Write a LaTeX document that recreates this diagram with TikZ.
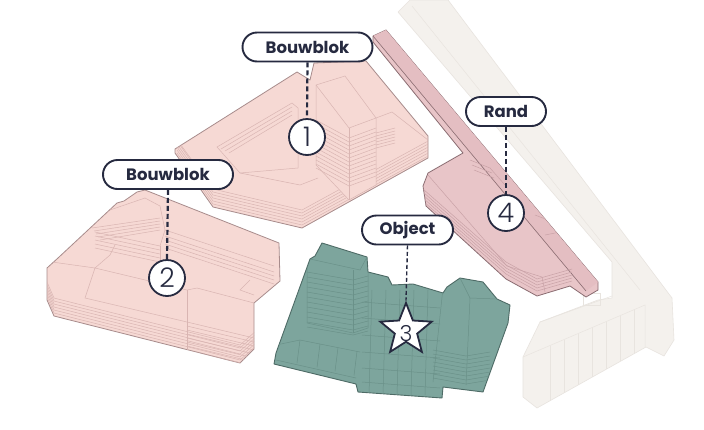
\documentclass[tikz,border=0pt]{standalone}
\usepackage{fontspec}
\setmainfont{Poppins}
\newfontfamily\numfont{Poppins Light}
\usetikzlibrary{shapes.geometric}
\definecolor{pinkfill}{HTML}{F6D9D4}
\definecolor{pinkline}{HTML}{A88C8C}
\definecolor{pinkdet}{HTML}{D9B5B2}
\definecolor{randfill}{HTML}{E8C5C8}
\definecolor{randtop}{HTML}{E4BEC2}
\definecolor{randline}{HTML}{8A6C71}
\definecolor{randdet}{HTML}{C9A2A7}
\definecolor{greenfill}{HTML}{7DA59D}
\definecolor{greenline}{HTML}{4E6B66}
\definecolor{greendet}{HTML}{6A9189}
\definecolor{beigefill}{HTML}{F4F1ED}
\definecolor{beigeline}{HTML}{E8E4DF}
\definecolor{navy}{HTML}{262A40}
\tikzset{
  pinkbld/.style={fill=pinkfill, draw=pinkline, line width=0.8pt, line join=round},
  pinkfl/.style={draw=pinkdet, line width=0.5pt},
  randbld/.style={fill=randfill, draw=randline, line width=0.8pt, line join=round},
  randfl/.style={draw=randdet, line width=0.5pt},
  greenbld/.style={fill=greenfill, draw=greenline, line width=0.9pt, line join=round},
  greenfl/.style={draw=greendet, line width=0.5pt},
  beigebld/.style={fill=beigefill, draw=beigeline, line width=0.6pt, line join=round},
  beigefl/.style={draw=beigeline, line width=0.5pt},
  pill/.style={draw=navy, line width=1.9pt, fill=white, rounded corners=14.5pt,
    minimum height=29pt, inner sep=0pt, text=navy, font=\fontsize{16.5}{16.5}\selectfont\bfseries},
  numc/.style={circle, draw=navy, line width=1.8pt, fill=white, minimum size=36pt,
    inner sep=0pt, text=navy, font=\numfont\fontsize{27}{27}\selectfont},
  starn/.style={star, star points=5, star point ratio=2.3, draw=navy, line width=1.8pt,
    fill=white, minimum size=54pt, inner sep=0pt},
  leadthick/.style={draw=navy, line width=2.2pt, dash pattern=on 5pt off 3pt},
  leadthin/.style={draw=navy, line width=1.4pt, dash pattern=on 4pt off 2.5pt}
}
\begin{document}
\begin{tikzpicture}[x=1pt,y=-1pt]
\useasboundingbox (0,0) rectangle (704,429);
\fill[white] (0,0) rectangle (704,429);

% ---------- background beige buildings ----------
\path[beigebld] (398,12) -- (410,0) -- (448,0) -- (672,298) -- (674,340) -- (664,356) -- (646,347)
  -- (537,408) -- (523,397) -- (523,357) -- (540,322) -- (598,300) -- (612,298) -- (612,262) -- cycle;
\draw[beigefl] (412,6) -- (640,290);
\draw[beigefl] (523,357) -- (645,305) -- (645,347);
\draw[beigefl] (540,322) -- (612,296);
\foreach \x/\t/\b in {550/345.7/400.7,564/339.5/392.7,578/333.6/384.8,592/327.6/376.9,606/321.6/369,620/315.7/361.1,634/309.7/353.2}
  \draw[beigefl] (\x,\t) -- (\x,\b);
\draw[beigefl] (583,293) rectangle (600,305);

% ---------- Rand (4) ----------
\path[randbld] (373,36) -- (386,30) -- (598,282) -- (598,290) -- (586,297) -- (570,286) -- (537,296)
  -- (506,279) -- (426,206) -- (423,186) -- (428,173) -- (463,153) -- (373,42) -- cycle;
\fill[randtop] (373,36) -- (386,30) -- (598,282) -- (586,291) -- cycle;
\draw[randline, line width=0.6pt] (373,36) -- (586,291);
\begin{scope}
  \clip (373,36) -- (386,30) -- (598,282) -- (598,290) -- (586,297) -- (570,286) -- (537,296)
  -- (506,279) -- (426,206) -- (423,186) -- (428,173) -- (463,153) -- (373,42) -- cycle;
  \foreach \k in {1,...,5}
    \draw[randfl] (423,{204-3*\k}) -- (506,{277-3*\k}) -- (537,{294-3*\k}) -- (572,{284-3*\k});
  \draw[randfl] (428,175) -- (507,266) -- (542,277) -- (545,292);
  \draw[randfl] (470,160) -- (490,168) -- (505,185);
  \draw[randfl] (472,165) -- (492,173);
  \draw[randfl] (474,170) -- (494,178);
  \draw[randfl] (535,215) -- (548,220);
  \draw[randfl] (545,235) -- (560,232);
\end{scope}

% ---------- Bouwblok (1) ----------
\def\bone{(175,149) -- (297,72) -- (310,80) -- (314,63) -- (366,61) -- (428,136) -- (428,158)
  -- (302,228) -- (213,207) -- (175,153) -- cycle}
\path[pinkbld] \bone;
\begin{scope}
  \clip \bone;
  \foreach \k in {1,...,5}
    \draw[pinkfl] (177,{156-3*\k}) -- (213,{207-3*\k}) -- (302,{228-3*\k}) -- (430,{158-3*\k});
  \draw[pinkfl] (178,141) -- (213,189) -- (302,210) -- (430,140);
  % courtyard steps
  \draw[pinkfl] (217,147) -- (292,103) -- (298,108) -- (298,168) -- (240,173) -- cycle;
  \foreach \k in {1,2,3}
    \draw[pinkfl] ({217+4*\k},{147+2*\k}) -- (292,{103+4*\k});
  \draw[pinkfl] (240,173) -- (300,185) -- (318,178);
  % tower
  \path[fill=pinkfill, draw=pinkdet, line width=0.5pt] (316,85) -- (345,76) -- (376,118) -- (376,185) -- (349,200) -- (316,165) -- cycle;
  \draw[pinkfl] (316,85) -- (349,128) -- (376,118);
  \draw[pinkfl] (349,128) -- (349,200);
  \foreach \k in {0,...,12}{
    \draw[pinkfl] (316,{120+4*\k}) -- (349,{138+4*\k}) -- (376,{128+4*\k});
  }
  % right lower block
  \draw[pinkfl] (376,118) -- (392,112) -- (428,140);
  \foreach \k in {1,...,6}
    \draw[pinkfl] (376,{130+3*\k}) -- (395,{125+3*\k});
\end{scope}

% ---------- Bouwblok (2) ----------
\def\btwo{(47,268) -- (58,258) -- (117,203) -- (124,201) -- (137,192) -- (145,190) -- (279,243)
  -- (280,281) -- (254,303) -- (254,349) -- (240,363) -- (54,316) -- (47,300) -- cycle}
\path[pinkbld] \btwo;
\begin{scope}
  \clip \btwo;
  \foreach \k in {1,...,6}
    \draw[pinkfl] (47,{300-3*\k}) -- (54,{316-3*\k}) -- (240,{363-3*\k}) -- (256,{349-3*\k});
  % left block
  \draw[pinkfl] (52,262) -- (95,268) -- (85,298);
  % middle long block
  \draw[pinkfl] (95,268) -- (187,290) -- (197,288);
  \draw[pinkfl] (85,298) -- (187,322);
  % front right block
  \draw[pinkfl] (187,290) -- (187,354);
  \draw[pinkfl] (197,288) -- (254,303);
  \foreach \k in {1,...,8}
    \draw[pinkfl] (187,{318+4*\k}) -- (254,{334+4*\k});
  % courtyard
  \draw[pinkfl] (95,268) -- (110,255) -- (115,245);
  \foreach \k in {0,...,4}
    \draw[pinkfl] (95,{232+4*\k}) -- (160,{246+4*\k});
  \draw[pinkfl] (160,246) -- (160,275);
  \draw[pinkfl] (160,246) -- (165,230) -- (274,266);
  \foreach \k in {1,...,4}
    \draw[pinkfl] (165,{232+4*\k}) -- (274,{268+4*\k});
  \draw[pinkfl] (250,280) -- (240,290) -- (254,295);
  % rear block
  \draw[pinkfl] (110,210) -- (145,198) -- (160,206);
  \foreach \k in {1,...,5}
    \draw[pinkfl] ({90+2*\k},{225+3*\k}) -- (160,{215+3*\k});
  \draw[pinkfl] (160,206) -- (165,230);
\end{scope}

% ---------- Object (3) ----------
\def\bthree{(274,364) -- (276,353) -- (310,259) -- (315,256) -- (322,243) -- (367,257) -- (368,272)
  -- (388,277) -- (392,285) -- (413,284) -- (443,293) -- (447,287) -- (460,278) -- (483,282)
  -- (497,299) -- (510,305) -- (508,323) -- (483,392) -- (443,387) -- (442,398) -- (358,392)
  -- (356,384) -- cycle}
\path[greenbld] \bthree;
\begin{scope}
  \clip \bthree;
  % left tower
  \draw[greenfl] (310,259) -- (360,270) -- (367,257);
  \draw[greenfl] (307,262) -- (307,323) -- (353,333) -- (368,328) -- (368,272);
  \draw[greenfl] (353,270) -- (353,333);
  \foreach \k in {0,...,11}
    \draw[greenfl] (307,{272+5*\k}) -- (353,{280+5*\k}) -- (368,{276+5*\k});
  % left podium
  \draw[greenfl] (276,345) -- (300,340) -- (360,352);
  \draw[greenfl] (276,360) -- (356,378);
  \foreach \x in {300,320,338,357}
    \draw[greenfl] (\x,{340+0.2*(\x-300)}) -- ({\x-3},{363+0.22*(\x-300)});
  % middle grid
  \foreach \x in {372,386,400,414,428}
    \draw[greenfl] (\x,290) -- ({\x-3},395);
  \foreach \y in {302,318,335,352,368,382}
    \draw[greenfl] (362,\y) -- (440,{\y+6});
  % right tower
  \draw[greenfl] (443,288) -- (433,382);
  \draw[greenfl] (460,278) -- (470,298) -- (497,299);
  \draw[greenfl] (470,298) -- (466,385);
  \foreach \k in {0,...,7}
    \draw[greenfl] (433,{350+4*\k}) -- (466,{356+4*\k}) -- (490,{352+4*\k});
\end{scope}

% ---------- labels ----------
\node[pill, minimum width=130pt] (l1) at (307.5,47) {Bouwblok};
\node[numc] (n1) at (307,137) {1};
\draw[leadthick] (l1.south) -- (n1.north);

\node[pill, minimum width=130pt] (l2) at (168,174.5) {Bouwblok};
\node[numc] (n2) at (167,278) {2};
\draw[leadthick] (l2.south) -- (n2.north);

\node[pill, minimum width=80pt] (l4) at (506,111.5) {Rand};
\node[numc] (n4) at (506,213) {4};
\draw[leadthick] (l4.south) -- (n4.north);

\node[pill, minimum width=91pt] (l3) at (407.5,230) {Object};
\node[starn] (s3) at (406,330) {};
\node[text=navy, font=\numfont\fontsize{22}{22}\selectfont] (t3) at (406,334) {3};
\draw[leadthin] (l3.south) -- (s3.north);
\end{tikzpicture}
\end{document}
